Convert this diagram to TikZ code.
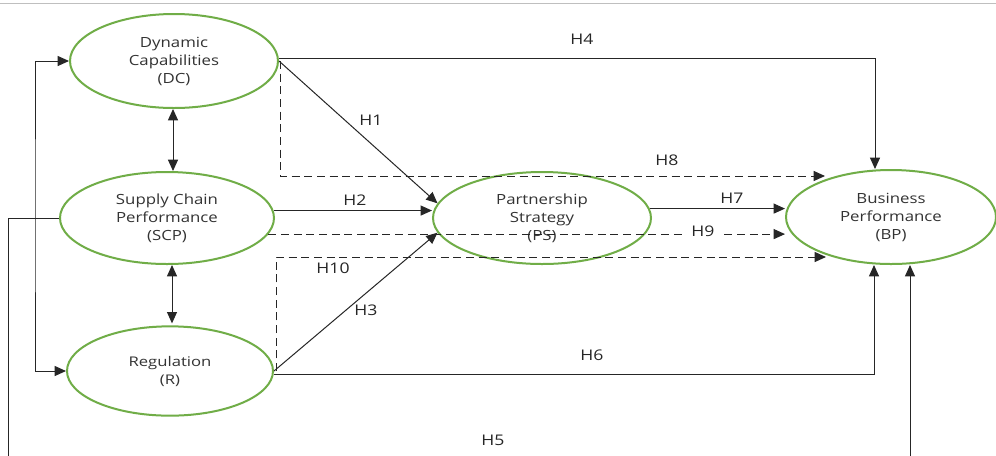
\documentclass[tikz,border=0pt]{standalone}
\usepackage{fontspec}
\setmainfont{Open Sans}[FakeStretch=1.2]
\newfontfamily\regfont{Open Sans}[FakeStretch=1.25]
\usetikzlibrary{shapes.geometric,arrows.meta,calc}
\definecolor{egreen}{HTML}{70AD47}
\begin{document}
\begin{tikzpicture}[x=0.75pt,y=-0.75pt,
  latent/.style={ellipse,draw=egreen,line width=1.5pt,inner sep=0pt,align=center,
     text=black!80,font=\fontsize{10.5}{13.5}\selectfont},
  arr/.style={draw=black!85,line width=0.75pt,-{Triangle[length=8.5pt,width=7.5pt]}},
  biarr/.style={draw=black!85,line width=0.75pt,{Triangle[length=8.5pt,width=7.5pt]}-{Triangle[length=8.5pt,width=7.5pt]}},
  darr/.style={arr,dash pattern=on 6pt off 3.5pt},
  lbl/.style={font=\fontsize{11}{12}\selectfont,inner sep=1pt,text=black!85}]
\useasboundingbox (0,0) rectangle (996,455);
\clip (0,0) rectangle (996,455);
\fill[white] (0,0) rectangle (996,455);
\draw[black!25,line width=0.75pt] (0,3) -- (996,3);

% latent variables
\node[latent,minimum width=156pt,minimum height=70.5pt] (DC) at (174,61) {Dynamic\\Capabilities\\(DC)};
\node[latent,minimum width=160.5pt,minimum height=69pt] (SCP) at (167,218) {Supply Chain\\Performance\\(SCP)};
\node[latent,minimum width=154.5pt,minimum height=67pt,font=\regfont\fontsize{10}{13.5}\selectfont] (R) at (170,371) {Regulation\\(R)};
\node[latent,minimum width=163.5pt,minimum height=69pt] (PS) at (542,218) {Partnership\\Strategy\\(PS)};
\node[latent,minimum width=157.5pt,minimum height=70.5pt] (BP) at (891,217) {Business\\Performance\\(BP)};

\coordinate (h8) at (825,176);
\coordinate (h10) at (826,257);

% correlations
\draw[biarr] ($(DC.south)+(-1,0)$) -- ($(DC.south |- SCP.north)+(-1,0)$);
\draw[biarr] ($(SCP.south)+(5,0)$) -- ($(SCP.south |- R.north)+(5,-2)$);
\draw[biarr] (DC.west) -| (35,215) |- (R.west);

% H4
\draw[arr] ($(DC.east)+(0,-3)$) -| ($(BP.north)+(-16,0)$);
% H1
\draw[arr] (DC.east) -- (PS.172);
% H8
\draw[darr] ($(DC.east)+(1,0)$) |- (h8);
% H2
\draw[arr] (SCP.4) -- (SCP.4 -| PS.west);
% H9
\draw[darr] (SCP.-9) -- (SCP.-9 -| BP.west);
% H7
\draw[arr] (PS.5) -- (PS.5 -| BP.west);
% H10
\draw[darr] ($(R.east)+(2,0)$) |- (h10);
% H3
\draw[arr] (R.east) -- (PS.188);
% H6
\draw[arr] (R.-2) -| ($(BP.south)+(-17,0)$);
% H5
\draw[arr] (SCP.west) -| (8,470) -| ($(BP.south)+(19,0)$);

% labels
\node[lbl] (l4) at (582,39) {H4};
\node[lbl] (l1) at (371,120) {H1};
\node[lbl] (l8) at (667,160) {H8};
\node[lbl] (l2) at (355,200) {H2};
\node[lbl] (l7) at (732,198) {H7};
\node[lbl,fill=white,inner xsep=6pt] (l9) at (703,231) {H9};
\node[lbl] (l10) at (333,268) {H10};
\node[lbl] (l3) at (366,310) {H3};
\node[lbl] (l6) at (592,355) {H6};
\node[lbl] (l5) at (493,440) {H5};
\end{tikzpicture}
\end{document}
